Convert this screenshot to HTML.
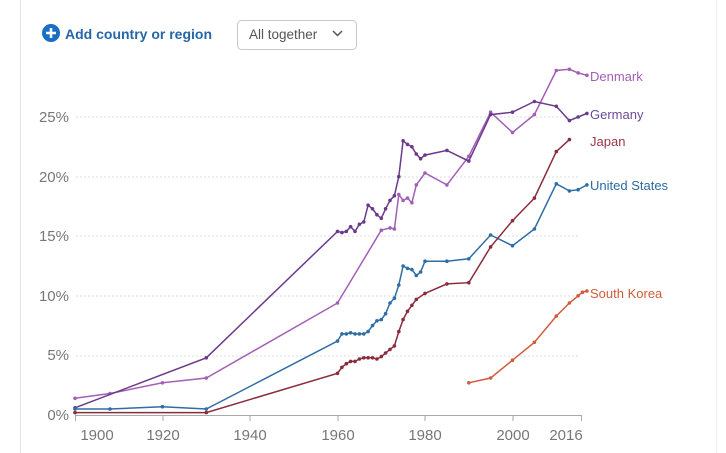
<!DOCTYPE html>
<html><head><meta charset="utf-8"><style>
body{margin:0;width:726px;height:453px;background:#fff;overflow:hidden;font-family:"Liberation Sans",sans-serif;}
svg{position:absolute;left:0;top:0}
</style></head><body>
<svg id="s" width="726" height="453" viewBox="0 0 726 453">
<line x1="20.5" y1="0" x2="20.5" y2="453" stroke="#e4e4e4"/>
<line x1="716.5" y1="0" x2="716.5" y2="453" stroke="#eee"/>
<circle cx="51" cy="33" r="9" fill="#1a6fc4"/>
<path d="M46 33h10M51 28v10" stroke="#fff" stroke-width="2.6"/>
<text x="65" y="39" font-size="14" font-weight="bold" fill="#2466a8">Add country or region</text>
<rect x="237.5" y="20.5" width="119" height="29" rx="4" fill="#fff" stroke="#c8c8c8"/>
<text x="249" y="39" font-size="13.5" fill="#555">All together</text>
<path d="M333 31l4.5 4.5 4.5-4.5" fill="none" stroke="#555" stroke-width="1.5"/>
<g font-size="15" fill="#777" text-anchor="end">
<text x="69" y="122">25%</text><text x="69" y="182">20%</text><text x="69" y="241">15%</text>
<text x="69" y="301">10%</text><text x="69" y="360">5%</text><text x="69" y="420">0%</text>
</g>
<g stroke="#ddd" stroke-dasharray="2,2">
<line x1="76" y1="117" x2="580" y2="117"/><line x1="76" y1="177" x2="580" y2="177"/>
<line x1="76" y1="236" x2="580" y2="236"/><line x1="76" y1="296" x2="580" y2="296"/>
<line x1="76" y1="356" x2="580" y2="356"/>
</g>
<line x1="75" y1="415.5" x2="582" y2="415.5" stroke="#aaa"/>
<g stroke="#aaa"><line x1="75.5" y1="415" x2="75.5" y2="421"/><line x1="163" y1="415" x2="163" y2="421"/><line x1="250" y1="415" x2="250" y2="421"/><line x1="338" y1="415" x2="338" y2="421"/><line x1="425" y1="415" x2="425" y2="421"/><line x1="513" y1="415" x2="513" y2="421"/><line x1="581.5" y1="415" x2="581.5" y2="421"/></g>
<g font-size="15" fill="#777" text-anchor="middle">
<text x="97" y="440">1900</text><text x="163" y="440">1920</text><text x="250" y="440">1940</text><text x="338" y="440">1960</text><text x="425" y="440">1980</text><text x="513" y="440">2000</text><text x="566" y="440">2016</text>
</g>
<g id="lines"></g>
<g font-size="13">
<text x="590" y="81" fill="#a35fb5">Denmark</text>
<text x="590" y="119" fill="#6f4a95">Germany</text>
<text x="590" y="146" fill="#9b3446">Japan</text>
<text x="590" y="190" fill="#2d6aa1">United States</text>
<text x="590" y="298" fill="#cf5c3c">South Korea</text>
</g>
</svg>
<script>
var D={
"#a35fb5":[[1900,1.4],[1908,1.8],[1920,2.7],[1930,3.1],[1960,9.4],[1970,15.5],[1972,15.7],[1973,15.6],[1974,18.5],[1975,18],[1976,18.2],[1977,17.8],[1978,19.3],[1980,20.3],[1985,19.3],[1990,21.7],[1995,25.4],[2000,23.7],[2005,25.2],[2010,28.9],[2013,29],[2015,28.7],[2017,28.5]],
"#6b3a8c":[[1900,0.6],[1930,4.8],[1960,15.4],[1961,15.3],[1962,15.4],[1963,15.8],[1964,15.4],[1965,16],[1966,16.2],[1967,17.6],[1968,17.3],[1969,16.8],[1970,16.5],[1971,17.3],[1972,18],[1973,18.4],[1974,20],[1975,23],[1976,22.7],[1977,22.5],[1978,21.9],[1979,21.5],[1980,21.8],[1985,22.2],[1990,21.3],[1995,25.2],[2000,25.4],[2005,26.3],[2010,25.9],[2013,24.7],[2015,25],[2017,25.3]],
"#2e6ea6":[[1900,0.5],[1908,0.5],[1920,0.7],[1930,0.5],[1960,6.2],[1961,6.8],[1962,6.8],[1963,6.9],[1964,6.8],[1965,6.8],[1966,6.8],[1967,7],[1968,7.5],[1969,7.9],[1970,8],[1971,8.5],[1972,9.4],[1973,9.8],[1974,10.9],[1975,12.5],[1976,12.3],[1977,12.2],[1978,11.7],[1979,12],[1980,12.9],[1985,12.9],[1990,13.1],[1995,15.1],[2000,14.2],[2005,15.6],[2010,19.4],[2013,18.8],[2015,18.9],[2017,19.3]],
"#8a2c3c":[[1900,0.2],[1930,0.2],[1960,3.5],[1961,4],[1962,4.3],[1963,4.5],[1964,4.5],[1965,4.7],[1966,4.8],[1967,4.8],[1968,4.8],[1969,4.7],[1970,4.9],[1971,5.2],[1972,5.5],[1973,5.8],[1974,7],[1975,8],[1976,8.7],[1977,9.2],[1978,9.7],[1980,10.2],[1985,11],[1990,11.1],[1995,14.1],[2000,16.3],[2005,18.2],[2010,22.1],[2013,23.1]],
"#d05c3c":[[1990,2.7],[1995,3.1],[2000,4.6],[2005,6.1],[2010,8.3],[2013,9.4],[2015,10],[2016,10.3],[2017,10.4]]};
var g=document.getElementById('lines'),h='';
for(var c in D){var p=D[c].map(function(d){return [75+(d[0]-1900)*4.375,415-d[1]*11.92]});
h+='<polyline fill="none" stroke="'+c+'" stroke-width="1.5" points="'+p.map(function(q){return q[0].toFixed(1)+','+q[1].toFixed(1)}).join(' ')+'"/>';
p.forEach(function(q){h+='<circle cx="'+q[0].toFixed(1)+'" cy="'+q[1].toFixed(1)+'" r="1.8" fill="'+c+'"/>'});}
g.innerHTML=h;
</script>
</body></html>
